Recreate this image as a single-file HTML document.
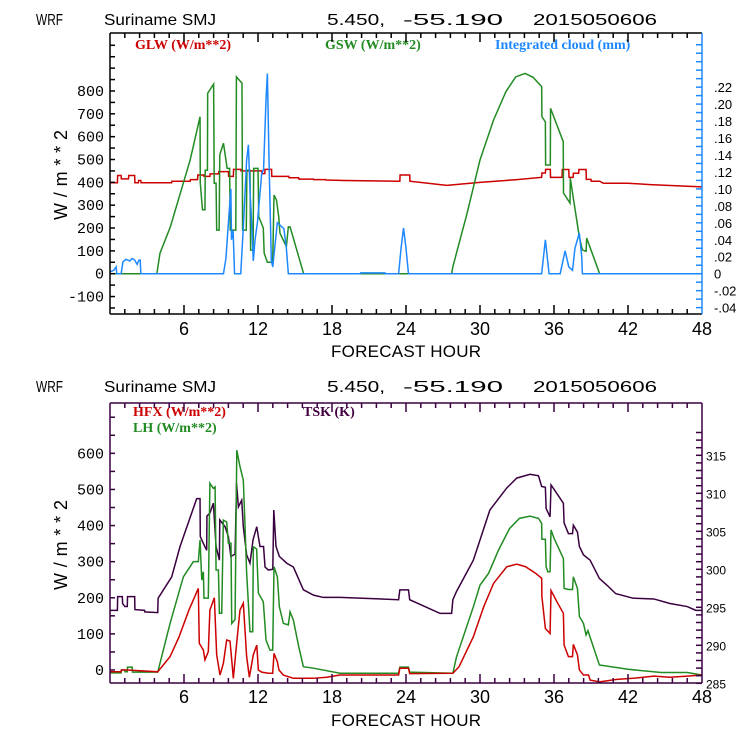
<!DOCTYPE html>
<html><head><meta charset="utf-8">
<style>
html,body{margin:0;padding:0;background:#fff;}
svg{display:block;}
.t{font-family:"Liberation Mono",monospace;fill:#000;}
.ts{font-family:"Liberation Sans",sans-serif;fill:#000;}
.lg{font-family:"Liberation Serif",serif;font-weight:bold;font-size:14px;}
</style></head>
<body>
<svg id="chart" width="740" height="740" viewBox="0 0 740 740" xmlns="http://www.w3.org/2000/svg">
<rect width="740" height="740" fill="#fff"/>
<g class="ts" font-size="16">
<text x="36" y="25" textLength="27" lengthAdjust="spacingAndGlyphs">WRF</text>
<text x="104" y="25" textLength="112" lengthAdjust="spacingAndGlyphs">Suriname SMJ</text>
<text x="327" y="25" textLength="58" lengthAdjust="spacingAndGlyphs">5.450,</text>
<text x="403" y="25" textLength="100" lengthAdjust="spacingAndGlyphs">-55.190</text>
<text x="533" y="25" textLength="124" lengthAdjust="spacingAndGlyphs">2015050606</text>
</g>
<g class="ts" font-size="16">
<text x="36" y="392" textLength="27" lengthAdjust="spacingAndGlyphs">WRF</text>
<text x="104" y="392" textLength="112" lengthAdjust="spacingAndGlyphs">Suriname SMJ</text>
<text x="327" y="392" textLength="58" lengthAdjust="spacingAndGlyphs">5.450,</text>
<text x="403" y="392" textLength="100" lengthAdjust="spacingAndGlyphs">-55.190</text>
<text x="533" y="392" textLength="124" lengthAdjust="spacingAndGlyphs">2015050606</text>
</g>
<text class="lg" x="135" y="49" fill="#cc0000">GLW (W/m**2)</text>
<text class="lg" x="325" y="49" fill="#228b22">GSW (W/m**2)</text>
<text class="lg" x="495" y="49" fill="#1e88ff">Integrated cloud (mm)</text>
<text class="lg" x="133" y="416" fill="#cc0000">HFX (W/m**2)</text>
<text class="lg" x="133" y="432" fill="#228b22">LH  (W/m**2)</text>
<text class="lg" x="303" y="416" fill="#400040">TSK (K)</text>
<text class="ts" font-size="18" transform="translate(67,175) rotate(-90)" text-anchor="middle" textLength="90" lengthAdjust="spacing">W/m**2</text>
<text class="ts" font-size="18" transform="translate(67,545) rotate(-90)" text-anchor="middle" textLength="90" lengthAdjust="spacing">W/m**2</text>
<text class="ts" x="406" y="357" font-size="17" text-anchor="middle" textLength="150" lengthAdjust="spacing">FORECAST HOUR</text>
<text class="ts" x="406" y="726" font-size="17" text-anchor="middle" textLength="150" lengthAdjust="spacing">FORECAST HOUR</text>
<defs>
<clipPath id="clipTop"><rect x="110" y="33" width="592" height="281"/></clipPath>
<clipPath id="clipBot"><rect x="110" y="403" width="592" height="280"/></clipPath>
</defs>
<g id="gTop" clip-path="url(#clipTop)"></g>
<g id="gBot" clip-path="url(#clipBot)"></g>
<g id="axes"></g>
</svg>
<script>
// ---- data ----
const xTicks = [6,12,18,24,30,36,42,48];
const topLeftTicks = [-100,0,100,200,300,400,500,600,700,800];
const topRightTicks = [-0.04,-0.02,0,0.02,0.04,0.06,0.08,0.10,0.12,0.14,0.16,0.18,0.20,0.22];
const topRightLabels = ['-.04','-.02','0','.02','.04','.06','.08','.10','.12','.14','.16','.18','.20','.22'];
const botLeftTicks = [0,100,200,300,400,500,600];
const botRightTicks = [285,290,295,300,305,310,315];

const gswH = [0,3.8,4.05,4.9,5.7,6.5,7.3,7.32,7.5,7.7,7.72,7.9,7.92,8.4,8.45,8.6,8.65,8.85,8.9,9.2,9.5,9.7,9.75,10.2,10.25,10.7,10.75,11.05,11.1,11.35,11.4,11.6,11.65,12.0,12.06,12.43,12.5,12.76,13.19,13.3,13.5,13.68,13.78,14.3,14.46,14.6,15.7,27.7,27.8,28.95,30.0,31.1,32.1,32.9,33.65,34.3,35.0,35.02,35.3,35.32,35.7,35.72,36.75,36.77,37.3,37.32,38.05,38.3,38.6,38.65,39.7,48];
const gswV = [0,0,89,206,352,498,687,397,280,280,453,453,790,830,396,396,191,191,520,571,461,461,191,191,862,834,191,191,453,453,103,103,461,461,250,200,90,50,50,344,322,250,178,118,205,205,0,0,31,264,498,673,797,862,877,860,819,687,665,476,476,724,578,353,309,418,162,104,98,156,0,0];

const glwH = [0,0.6,0.62,0.9,0.92,1.5,1.52,2.0,2.02,2.3,2.32,2.5,2.52,5.0,5.02,6.5,6.52,7.1,7.12,7.6,7.62,8.1,8.12,8.8,8.82,9.6,9.62,10.0,10.02,10.6,10.62,12.3,12.32,12.55,12.57,13.1,13.12,14.5,14.52,15.3,15.32,16.5,16.52,17.5,17.52,19,23.5,23.52,24.3,24.32,27.3,30,33,35.0,35.02,35.3,35.32,35.7,35.72,36.65,36.67,37.2,37.22,37.55,37.57,38.0,38.02,38.6,38.62,39.0,39.02,39.7,40,42,43.8,45.9,48];
const glwV = [398,398,430,430,415,415,430,430,398,398,408,408,398,398,405,405,412,412,432,432,426,426,437,437,447,447,426,426,457,457,450,450,438,438,457,457,426,426,420,420,414,414,412,412,410,408,405,432,432,405,387,400,412,422,441,441,457,457,422,422,456,456,422,422,440,440,456,456,413,413,405,405,396,396,390,385,380];

const cloudH = [0,0.3,0.5,0.55,0.9,1.05,1.3,1.6,1.8,2.0,2.2,2.35,2.45,2.5,9.2,9.4,9.6,9.8,9.85,9.98,10.1,10.6,10.81,11.08,11.22,11.36,11.45,11.62,11.76,11.95,12.3,12.45,12.65,12.76,12.9,13.08,13.2,13.3,13.57,13.8,14.1,14.3,14.46,20.3,20.32,22.3,22.32,23.4,23.6,23.8,24.0,24.2,35.0,35.3,35.6,36.5,36.9,37.2,37.5,37.7,38.05,38.25,38.3,48];
const cloudV = [0.002,0.004,0.008,0,0,0.014,0.017,0.015,0.018,0.016,0.011,0.016,0.016,0,0,0.018,0.06,0.1,0.04,0.051,0,0,0.055,0.134,0.152,0.095,0.07,0.015,0.04,0.06,0.118,0.123,0.205,0.236,0.13,0.015,0.008,0.023,0.06,0.057,0.053,0.03,0,0,0.001,0.001,0,0,0.03,0.054,0.03,0,0,0.04,0,0,0.027,0.008,0.004,0.03,0.048,0.02,0,0];

const tskH = [0,0.6,0.62,1.0,1.02,1.2,1.4,1.42,2.0,2.02,2.8,2.82,3.87,3.9,5.0,5.68,7.03,7.3,7.32,7.57,7.84,7.86,8.1,8.38,8.6,8.87,8.9,9.33,9.6,9.8,10.14,10.26,10.41,10.68,10.81,11.08,11.35,11.6,11.9,12.16,12.45,12.57,12.84,13.2,13.28,13.46,13.73,14.33,14.87,15.68,16.5,17.3,18.65,23.4,23.5,24.2,24.3,26.76,27.7,27.8,28.1,29.46,30.8,32.17,32.98,34.06,34.74,35.0,35.3,35.36,35.68,35.76,36.1,36.76,36.82,37.17,37.5,37.57,37.9,38.06,38.39,38.93,39.68,40.3,41.0,42.4,44.1,45.4,46.8,47.5,48];
const tskV = [294.6,294.6,296.4,296.4,295.5,295.1,295.1,296.4,296.4,294.7,294.6,294.4,294.3,296.2,299.0,303,309.3,309.3,304.3,303.4,302.5,307.0,307.4,308.7,303,301.2,306.5,305.6,304.3,301.7,302,311.3,308.2,309.1,305.6,301.9,300.8,303.9,305.6,303,303,300.3,299.9,300.0,307.8,303,301.7,300.8,300.3,297.3,296.6,296.3,296.3,296.0,297.3,297.3,296.0,294.2,294.2,296,297.1,301.2,307.8,310.7,312,312.5,312.3,310.9,310.8,308,306.9,311.1,310.3,308.7,306.1,304.7,304.7,305.8,304.9,303,301.9,301.2,298.8,297.9,296.8,296.2,296.1,295.5,295.1,294.6,294.6];

const lhH = [0,0.9,0.92,1.2,1.22,1.4,1.42,1.8,1.82,3.87,4.87,5.95,6.76,7.16,7.3,7.44,7.57,7.62,7.97,8.1,8.38,8.52,8.6,8.79,8.87,9.06,9.19,9.46,9.6,9.81,9.87,10.14,10.28,10.54,10.81,10.95,11.08,11.35,11.57,11.62,11.89,12.03,12.43,12.65,12.97,13.19,13.3,13.57,13.73,14.06,14.46,14.6,14.87,15.3,15.68,16.5,18.65,23.4,23.5,24.2,24.3,27.8,28.1,29.46,30.0,30.7,31.5,32.4,33.2,34.06,34.74,35.0,35.02,35.3,35.36,35.5,35.68,35.76,36.0,36.76,36.82,37.17,37.5,37.57,37.9,38.06,38.39,38.6,38.75,39.68,42,44.7,46.8,48];
const lhV = [-8,-8,0,0,-5,-5,8,8,-6,-6,129,258,300,300,360,249,272,199,199,517,503,507,277,277,157,157,415,410,351,351,129,140,609,563,526,397,268,106,106,341,335,213,189,83,55,55,286,258,175,129,125,161,138,65,9,5,-9,-9,8,8,-6,-9,37,175,235,268,332,392,420,426,420,406,362,362,286,272,272,388,365,309,226,223,223,258,226,148,129,97,109,14,2,-7,-7,-14];

const hfxH = [0,0.9,0.92,1.4,3.87,4.87,5.6,6.4,7.16,7.24,7.57,7.7,7.97,8.1,8.46,8.65,8.92,9.19,9.46,9.73,9.87,10.0,10.27,10.54,10.81,11.08,11.3,11.62,11.9,12.03,12.3,12.84,13.19,13.3,13.57,13.7,14.06,14.87,16.5,17.57,18.65,23.4,23.5,24.2,24.3,27.8,28.3,29.46,30.3,31.1,32.17,32.98,33.7,34.5,35.0,35.02,35.3,35.68,35.76,36.3,36.76,36.82,37.17,37.5,37.57,37.9,38.06,38.39,38.8,38.93,39.7,41.1,42.4,44.1,45.4,46.8,48];
const hfxV = [-5,-5,0,0,-5,37,92,166,226,74,55,28,51,166,200,42,-14,18,83,80,28,-23,74,166,185,37,-20,42,69,0,-6,-9,-9,46,23,0,-14,-23,-23,-20,-14,-14,5,5,-10,-9,9,92,175,240,286,293,286,268,254,203,115,101,220,185,157,69,37,37,71,42,0,-14,-14,-28,-33,-26,-23,-17,-20,-17,-14];

// ---- scales ----
const X0 = 110, XW = 592;
function xs(h){ return X0 + h * XW / 48; }
function yTop(v){ return 273.7 - v * 0.2284; }
function yCloud(mm){ return 273.7 - mm * 848; }
function yBot(v){ return 670 - v * 0.3611; }
function yTsk(k){ return 683.3 - (k - 285) * 7.6; }

const NS = 'http://www.w3.org/2000/svg';
function mk(tag, parent){ const e = document.createElementNS(NS, tag); parent.appendChild(e); return e; }
function pts(H, V, yf){ return H.map((h,i)=> xs(h).toFixed(2)+','+yf(V[i]).toFixed(2)).join(' '); }

const gTop = document.getElementById('gTop');
const gBot = document.getElementById('gBot');
const axes = document.getElementById('axes');

function series(parent, H, V, yf, color, name){
  const p = mk('polyline', parent);
  p.setAttribute('points', pts(H, V, yf));
  p.setAttribute('fill', 'none');
  p.setAttribute('stroke', color);
  p.setAttribute('stroke-width', '1.5');
  
  
}

series(gTop, glwH, glwV, yTop, '#cc0000', 'glw-line');
series(gTop, gswH, gswV, yTop, '#228b22', 'gsw-line');
series(gTop, cloudH, cloudV, yCloud, '#1e88ff', 'cloud-line');
series(gBot, tskH, tskV, yTsk, '#3a0040', 'tsk-line');
series(gBot, lhH, lhV, yBot, '#228b22', 'lh-line');
series(gBot, hfxH, hfxV, yBot, '#cc0000', 'hfx-line');

function line(x1,y1,x2,y2,c,name){
  const l = mk('line', axes);
  l.setAttribute('x1',x1); l.setAttribute('y1',y1); l.setAttribute('x2',x2); l.setAttribute('y2',y2);
  l.setAttribute('stroke',c); l.setAttribute('stroke-width','1.5');
  
  
}
function label(x,y,txt,anchor,size,cls,name){
  const t = mk('text', axes);
  t.setAttribute('x',x); t.setAttribute('y',y);
  t.setAttribute('class',cls);
  t.setAttribute('font-size',size);
  t.setAttribute('text-anchor',anchor);
  t.textContent = txt;
  
  
}

function panel(top, bot, frameColor, rightColor, yf, yr, leftTicks, rightVals, rightLabs, rightStep, leftMinorRange, rightRange, labY, prefix, rightSize, rightX){
  line(X0, top, X0+XW, top, frameColor, prefix+'-top-border');
  line(X0, bot, X0+XW, bot, frameColor, prefix+'-x-axis');
  line(X0, top, X0, bot, frameColor, prefix+'-left-axis');
  line(X0+XW, top, X0+XW, bot, rightColor, prefix+'-right-axis');
  for (let i = 1; i < 40; i++){
    const h = i*1.2, x = xs(h);
    const major = (i % 5 === 0);
    const len = major ? 9 : 5;
    line(x, bot, x, bot-len, frameColor, prefix+'-x-tick');
    line(x, top, x, top+len, frameColor, prefix+'-x-tick-top');
  }
  xTicks.forEach(h=>{ label(xs(h), labY, String(h), 'middle', 18, 'ts', prefix+'-x-tick-label'); });
  for (let v = leftMinorRange[0]; v <= leftMinorRange[1]; v += 50){
    const y = yf(v);
    if (y < top+1 || y > bot-1) continue;
    line(X0, y, X0+5, y, frameColor, prefix+'-y-tick');
  }
  leftTicks.forEach(v=>{ label(104, yf(v)+5, String(v), 'end', 15, 't', prefix+'-y-tick-label'); });
  for (let v = rightRange[0]; v <= rightRange[1]+1e-9; v += rightStep){
    const y = yr(v);
    if (y < top+1 || y > bot+1) continue;
    line(X0+XW, y, X0+XW-6, y, rightColor, prefix+'-right-tick');
  }
  rightVals.forEach((v,i)=>{ label(rightX, yr(v)+5, rightLabs[i], 'start', rightSize, 'ts', prefix+'-right-tick-label'); });
}

panel(33, 314, '#000', '#1e88ff', yTop, yCloud, topLeftTicks, topRightTicks, topRightLabels, 0.01, [-150,1050], [-0.05,0.27], 335, 'top', 13, 714);
panel(403, 683, '#3a0040', '#3a0040', yBot, yTsk, botLeftTicks, botRightTicks, botRightTicks.map(String), 1, [0,700], [285,318], 703, 'bottom', 12, 706);
</script>
</body></html>
